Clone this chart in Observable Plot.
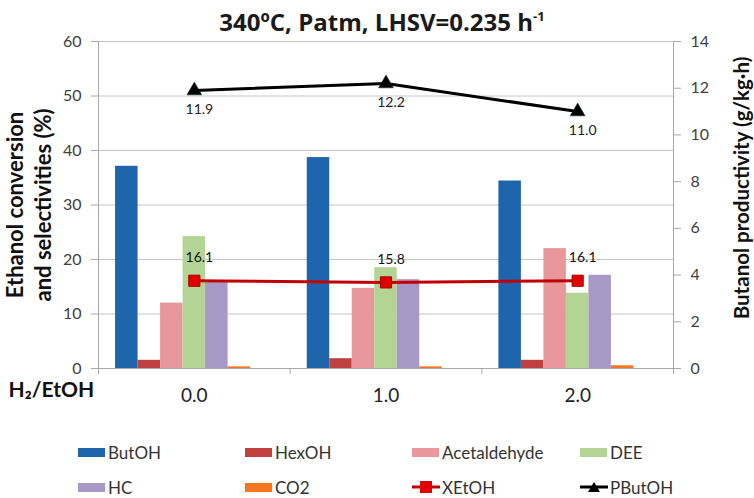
<!DOCTYPE html>
<html>
<head>
<meta charset="utf-8">
<script src="https://cdn.jsdelivr.net/npm/d3@7"></script>
<script src="https://cdn.jsdelivr.net/npm/@observablehq/plot@0.6"></script>
<style>
  html, body { margin: 0; padding: 0; background: #fff; }
  body { width: 754px; height: 498px; overflow: hidden; font-family: Lato, "Open Sans", sans-serif; }
  #title { height: 31px; text-align: center; font-family: "Open Sans", sans-serif; font-weight: bold; font-size: 24px; line-height: 28px; padding-top: 8px; color: #1a1a1a; box-sizing: border-box; padding-left: 10px; white-space: nowrap; }
  #title sup { font-size: 13px; vertical-align: 10px; line-height: 0; }
  #legend { position: relative; height: 85px; }
  .item { position: absolute; display: flex; align-items: center; font-size: 17px; color: #333; }
  .sw { display: inline-block; width: 27px; height: 9px; margin-right: 3px; }
</style>
</head>
<body>
<div id="title">340ºC, Patm, LHSV=0.235 h<sup>-1</sup></div>
<div id="chart"></div>
<div id="legend"></div>
<script>
// ---- data ----
const categories = ["0.0", "1.0", "2.0"];
const series = ["ButOH", "HexOH", "Acetaldehyde", "DEE", "HC", "CO2"];
const ButOH = [37.1, 38.7, 34.4];
const HexOH = [1.5, 1.8, 1.5];
const Acetaldehyde = [12.0, 14.7, 22.0];
const DEE = [24.2, 18.5, 13.8];
const HC = [15.8, 16.3, 17.1];
const CO2 = [0.3, 0.3, 0.5];
const XEtOH = [16.1, 15.8, 16.1];
const PButOH = [11.9, 12.2, 11.0];
const leftTicks = [0, 10, 20, 30, 40, 50, 60];
const rightTicks = [0, 2, 4, 6, 8, 10, 12, 14];
const colors = ["#1f65ab", "#c0403f", "#e8989a", "#b3d495", "#a898c6", "#f5761f"];

// ---- build tables ----
const seriesValues = [ButOH, HexOH, Acetaldehyde, DEE, HC, CO2];
const slots = 7;             // 6 series + 1 empty slot (as in the original Excel chart)
const groupWidth = 0.822;    // fraction of each category band occupied by the slots
const w = groupWidth / slots;
const bars = [];
categories.forEach((c, i) => {
  series.forEach((s, j) => {
    const x1 = i - groupWidth / 2 + j * w;
    bars.push({cat: c, series: s, x1, x2: x1 + w, value: seriesValues[j][i]});
  });
});
const rightMax = 14, leftMax = 60;
const toLeft = v => v * leftMax / rightMax;
const xData = categories.map((c, i) => ({i, c, v: XEtOH[i]}));
const pData = categories.map((c, i) => ({i, c, v: PButOH[i], y: toLeft(PButOH[i])}));

const gridColor = "#c6c6c6";
const axisColor = "#a8a8a8";
const tickText = "#404040";

const chart = Plot.plot({
  width: 754,
  height: 382,
  marginTop: 10,
  marginBottom: 45,
  marginLeft: 98,
  marginRight: 81,
  style: {fontFamily: "Lato, 'Open Sans', sans-serif", background: "#fff"},
  x: {type: "linear", domain: [-0.5, 2.5], axis: null},
  y: {domain: [0, leftMax], axis: null},
  color: {domain: series, range: colors},
  marks: [
    Plot.ruleY(leftTicks.filter(d => d > 0), {stroke: gridColor, strokeWidth: 1}),
    Plot.rect(bars, {x1: "x1", x2: "x2", y1: 0, y2: "value", fill: "series"}),
    Plot.ruleY([0], {stroke: axisColor}),
    Plot.ruleX([-0.5], {stroke: axisColor}),
    Plot.ruleX([2.5], {stroke: axisColor}),
    Plot.axisY({anchor: "left", ticks: leftTicks, tickSize: 7, tickPadding: 10, fontSize: 16, color: tickText, stroke: axisColor, label: null}),
    Plot.axisY({anchor: "right", ticks: rightTicks.map(toLeft), tickFormat: d => String(Math.round(d * rightMax / leftMax)), tickSize: 7, tickPadding: 10, fontSize: 16, color: tickText, stroke: axisColor, label: null}),
    Plot.axisX({ticks: [-0.5, 0.5, 1.5, 2.5], tickSize: 6, tickFormat: () => "", stroke: axisColor, label: null}),
    Plot.axisX({ticks: categories.map((c, i) => i), tickFormat: i => categories[i], tickSize: 0, tickPadding: 20, fontSize: 19, color: "#222", label: null}),
    // XEtOH line (left axis)
    Plot.line(xData, {x: "i", y: "v", stroke: "#c00000", strokeWidth: 3}),
    Plot.dot(xData, {x: "i", y: "v", symbol: "square", r: 6.3, fill: "#e00000", stroke: "#a80000", strokeWidth: 1}),
    Plot.text(xData, {x: "i", y: "v", text: d => d.v.toFixed(1), dx: 5, dy: -23, fontSize: 14, fill: "#111"}),
    // PButOH line (right axis)
    Plot.line(pData, {x: "i", y: "y", stroke: "#000", strokeWidth: 3}),
    Plot.dot(pData, {x: "i", y: "y", symbol: "triangle", r: 5.5, fill: "#000", stroke: "#0a3030", strokeWidth: 0.5}),
    Plot.text(pData, {x: "i", y: "y", text: d => d.v.toFixed(1), dx: 5, dy: 19, fontSize: 14, fill: "#222"}),
    // axis titles
    Plot.text([0], {frameAnchor: "left", textAnchor: "middle", text: () => "Ethanol conversion", rotate: -90, dx: -83, fontSize: 22, fontWeight: "bold", fill: "#111"}),
    Plot.text([0], {frameAnchor: "left", textAnchor: "middle", text: () => "and selectivities (%)", rotate: -90, dx: -55, fontSize: 22, fontWeight: "bold", fill: "#111"}),
    Plot.text([0], {frameAnchor: "right", textAnchor: "middle", text: () => "Butanol productivity (g/kg·h)", rotate: -90, dx: 69, dy: -17, fontSize: 20.5, fontWeight: "bold", fill: "#111"}),
    Plot.text([0], {frameAnchor: "bottom-left", text: () => "H₂/EtOH", textAnchor: "start", dx: -90, dy: 28, fontSize: 21, fontWeight: "bold", fill: "#111"})
  ]
});
document.getElementById("chart").appendChild(chart);

// ---- legend ----
const legendItems = [
  ...series.map((s, j) => ({name: s, type: "bar", color: colors[j]})),
  {name: "XEtOH", type: "square", color: "#e00000", line: "#c00000"},
  {name: "PButOH", type: "triangle", color: "#000", line: "#000"}
];
const colX = [78, 245, 412, 580];
const rowY = [39, 74];
const legend = document.getElementById("legend");
legendItems.forEach((it, k) => {
  const div = document.createElement("div");
  div.className = "item";
  div.style.left = colX[k % 4] + "px";
  div.style.top = (rowY[Math.floor(k / 4)] - 10) + "px";
  div.style.height = "20px";
  let sw;
  if (it.type === "bar") {
    sw = `<span class="sw" style="background:${it.color}"></span>`;
  } else {
    const marker = it.type === "square"
      ? `<rect x="8" y="2" width="12" height="12" fill="${it.color}"/>`
      : `<path d="M14,3 L20,13 L8,13 Z" fill="${it.color}"/>`;
    sw = `<svg width="28" height="16" style="margin-right:2px"><line x1="0" y1="8" x2="28" y2="8" stroke="${it.line}" stroke-width="3"/>${marker}</svg>`;
  }
  div.innerHTML = sw + `<span>${it.name}</span>`;
  legend.appendChild(div);
});
</script>
</body>
</html>
